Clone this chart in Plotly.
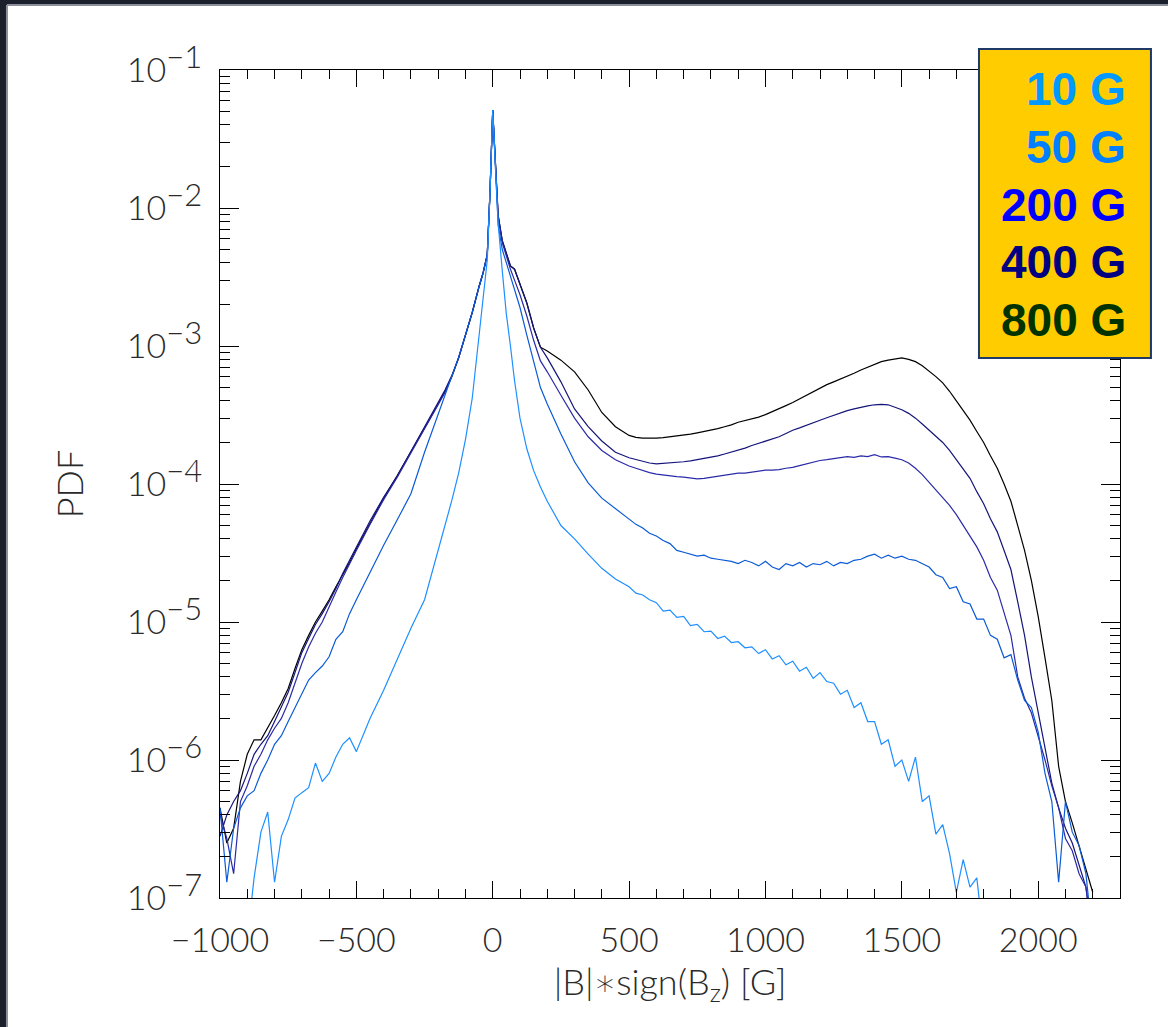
import plotly.graph_objects as go

# |B|*sign(Bz) in G, shared by all curves
field_G = ([-1000, -975, -950, -925, -900, -875, -850, -825, -800, -775, -750, -725, -700, -675, -650, -625,
            -600, -575, -550, -525, -500]
           + [-450, -400, -350, -300, -250, -200]
           + [-175, -150, -125, -100, -75, -50, -35, -20, -10, 0, 10, 20, 35, 50, 65, 80, 100, 125, 150, 175]
           + [200, 250, 300, 350, 400, 450]
           + [500, 525, 550, 575, 600, 625, 650, 675, 700, 725, 750, 775, 800, 825, 850, 875, 900, 925, 950, 975,
              1000, 1025, 1050, 1075, 1100, 1125, 1150, 1175, 1200, 1225, 1250, 1275, 1300, 1325, 1350, 1375,
              1400, 1425, 1450, 1475, 1500, 1525, 1550, 1575, 1600, 1625, 1650, 1675, 1700, 1725, 1750, 1775,
              1800, 1825, 1850, 1875, 1900, 1925, 1950, 1975, 2000, 2025, 2050, 2075, 2100, 2125, 2150, 2175,
              2200, 2225, 2250])

pdf_10G = ([None, None, None, None, 5e-8, 1.4e-7, 3e-7, 4.2e-7, 1.3e-7, 2.8e-7, 3.7e-7, 5.3e-7, 5.8e-7, 6.3e-7, 9.5e-7, 7e-7,
            8e-7, 1.05e-6, 1.3e-6, 1.45e-6, 1.15e-6]
           + [2e-6, 3.2e-6, 5.4e-6, 9e-6, 1.45e-5, 3.3e-5]
           + [5e-5, 7.6e-5, 1.2e-4, 2.1e-4, 4.2e-4, 1.2e-3, 2.2e-3, 4.2e-3, 1.3e-2, 5.1e-2, 2e-2, 7.7e-3, 3.5e-3, 1.7e-3, 1e-3, 5.6e-4, 3e-4, 1.8e-4, 1.25e-4, 9.5e-5]
           + [7.5e-5, 5e-5, 4e-5, 3.1e-5, 2.45e-5, 2.05e-5]
           + [1.8e-5, 1.62e-5, 1.57e-5, 1.45e-5, 1.38e-5, 1.2e-5, 1.22e-5, 1.08e-5, 1.1e-5, 9.4e-6, 9.6e-6, 8.5e-6, 8.6e-6, 7.6e-6, 7.9e-6, 7.1e-6, 7.2e-6, 6.5e-6, 6.6e-6, 5.9e-6,
              6.3e-6, 5.4e-6, 5.7e-6, 4.9e-6, 5.2e-6, 4.4e-6, 4.7e-6, 3.9e-6, 4.3e-6, 3.7e-6, 3.6e-6, 3e-6, 3.2e-6, 2.4e-6, 2.6e-6, 1.9e-6,
              1.9e-6, 1.3e-6, 1.4e-6, 9e-7, 1e-6, 7e-7, 1.05e-6, 5e-7, 5.5e-7, 2.9e-7, 3.4e-7, 2.1e-7, 1.1e-7, 1.9e-7, 1.2e-7, 1.4e-7,
              5e-8, None, None, None, None, None, None, None, None, None, None, None, None, None, None, None,
              None, None, None])

pdf_50G = ([4.5e-7, 1.3e-7, 3.2e-7, 4.5e-7, 5.5e-7, 6e-7, 8e-7, 1e-6, 1.3e-6, 1.5e-6, 1.9e-6, 2.4e-6, 3e-6, 3.8e-6, 4.3e-6, 4.8e-6,
            5.6e-6, 7.5e-6, 8.5e-6, 1.15e-5, 1.45e-5]
           + [2.3e-5, 3.6e-5, 5.5e-5, 8.5e-5, 1.7e-4, 3.2e-4]
           + [4.3e-4, 6e-4, 8.3e-4, 1.2e-3, 1.75e-3, 2.7e-3, 3.4e-3, 4.6e-3, 1.3e-2, 5.1e-2, 2e-2, 7.5e-3, 5e-3, 4e-3, 3.2e-3, 2.5e-3, 1.9e-3, 1.2e-3, 7.8e-4, 5e-4]
           + [3.8e-4, 2.3e-4, 1.45e-4, 1.02e-4, 7.9e-5, 6.6e-5]
           + [5.5e-5, 5.1e-5, 4.8e-5, 4.4e-5, 4.2e-5, 3.9e-5, 3.7e-5, 3.3e-5, 3.2e-5, 3.1e-5, 3e-5, 3.05e-5, 2.9e-5, 2.85e-5, 2.8e-5, 2.75e-5, 2.65e-5, 2.8e-5, 2.7e-5, 2.55e-5,
              2.75e-5, 2.5e-5, 2.4e-5, 2.65e-5, 2.55e-5, 2.7e-5, 2.5e-5, 2.65e-5, 2.6e-5, 2.75e-5, 2.55e-5, 2.7e-5, 2.65e-5, 2.8e-5, 2.85e-5, 3e-5,
              3.1e-5, 2.9e-5, 3.05e-5, 2.9e-5, 3e-5, 2.85e-5, 2.8e-5, 2.65e-5, 2.5e-5, 2.2e-5, 2.1e-5, 1.75e-5, 1.8e-5, 1.4e-5, 1.35e-5, 1.05e-5,
              1.05e-5, 8e-6, 7.5e-6, 5.5e-6, 5.8e-6, 3.8e-6, 2.7e-6, 2.4e-6, 1.6e-6, 8e-7, 5e-7, 1.3e-7, 5e-7, 3e-7, 2.4e-7, 1.5e-7,
              5e-8, None, None])

pdf_200G = ([4e-7, 2.7e-7, 1.5e-7, 5e-7, 6.5e-7, 9e-7, 1.1e-6, 1.4e-6, 1.7e-6, 2e-6, 2.6e-6, 3.6e-6, 5e-6, 6.6e-6, 8.3e-6, 1e-5,
             1.3e-5, 1.65e-5, 2.1e-5, 2.6e-5, 3.3e-5]
            + [5.1e-5, 7.7e-5, 1.12e-4, 1.68e-4, 2.55e-4, 3.75e-4]
            + [4.6e-4, 6e-4, 8.2e-4, 1.2e-3, 1.75e-3, 2.7e-3, 3.4e-3, 4.6e-3, 1.3e-2, 5.1e-2, 2e-2, 8.5e-3, 5.6e-3, 4.4e-3, 3.6e-3, 3e-3, 2.35e-3, 1.65e-3, 1.1e-3, 7.8e-4]
            + [6.5e-4, 4.4e-4, 3e-4, 2.2e-4, 1.75e-4, 1.5e-4]
            + [1.35e-4, 1.3e-4, 1.25e-4, 1.21e-4, 1.18e-4, 1.16e-4, 1.14e-4, 1.13e-4, 1.12e-4, 1.1e-4, 1.09e-4, 1.1e-4, 1.12e-4, 1.14e-4, 1.16e-4, 1.19e-4, 1.2e-4, 1.2e-4, 1.22e-4, 1.24e-4,
               1.26e-4, 1.26e-4, 1.27e-4, 1.3e-4, 1.32e-4, 1.36e-4, 1.4e-4, 1.45e-4, 1.48e-4, 1.5e-4, 1.52e-4, 1.55e-4, 1.58e-4, 1.56e-4, 1.6e-4, 1.58e-4,
               1.63e-4, 1.57e-4, 1.58e-4, 1.54e-4, 1.5e-4, 1.42e-4, 1.3e-4, 1.17e-4, 1.03e-4, 9.2e-5, 8e-5, 7e-5, 6e-5, 5e-5, 4.2e-5, 3.5e-5,
               2.8e-5, 2.1e-5, 1.7e-5, 1.15e-5, 8e-6, 4e-6, 2.8e-6, 2.2e-6, 1.5e-6, 1e-6, 6.5e-7, 4.5e-7, 2.7e-7, 2.2e-7, 1.5e-7, 1.2e-7,
               5e-8, None, None])

pdf_400G = ([2.8e-7, 4e-7, 5e-7, 6e-7, 8e-7, 1.1e-6, 1.3e-6, 1.5e-6, 1.9e-6, 2.4e-6, 3.1e-6, 4.3e-6, 6e-6, 7.6e-6, 9.6e-6, 1.15e-5,
             1.4e-5, 1.75e-5, 2.25e-5, 2.8e-5, 3.5e-5]
            + [5.4e-5, 8e-5, 1.14e-4, 1.72e-4, 2.6e-4, 3.85e-4]
            + [4.8e-4, 6.1e-4, 8.2e-4, 1.2e-3, 1.75e-3, 2.7e-3, 3.4e-3, 4.6e-3, 1.3e-2, 5.1e-2, 2e-2, 8.8e-3, 5.8e-3, 4.6e-3, 3.8e-3, 3.6e-3, 2.8e-3, 2.05e-3, 1.35e-3, 9.8e-4]
            + [8.2e-4, 5.5e-4, 3.5e-4, 2.6e-4, 2.05e-4, 1.7e-4]
            + [1.55e-4, 1.5e-4, 1.45e-4, 1.42e-4, 1.4e-4, 1.41e-4, 1.42e-4, 1.43e-4, 1.45e-4, 1.47e-4, 1.5e-4, 1.52e-4, 1.55e-4, 1.6e-4, 1.65e-4, 1.7e-4, 1.75e-4, 1.82e-4, 1.9e-4, 1.97e-4,
               2.05e-4, 2.12e-4, 2.2e-4, 2.32e-4, 2.45e-4, 2.55e-4, 2.65e-4, 2.78e-4, 2.9e-4, 3.02e-4, 3.15e-4, 3.28e-4, 3.4e-4, 3.5e-4, 3.6e-4, 3.68e-4,
               3.75e-4, 3.78e-4, 3.75e-4, 3.62e-4, 3.45e-4, 3.25e-4, 3e-4, 2.72e-4, 2.45e-4, 2.22e-4, 2e-4, 1.75e-4, 1.5e-4, 1.3e-4, 1.1e-4, 8.8e-5,
               7.2e-5, 5.6e-5, 4.5e-5, 3.3e-5, 2.4e-5, 1.4e-5, 8e-6, 4e-6, 2.2e-6, 1.2e-6, 6.8e-7, 4.5e-7, 3.2e-7, 2.5e-7, 1.7e-7, 1.2e-7,
               5e-8, None, None])

pdf_800G = ([4.5e-7, 2.5e-7, 3.2e-7, 7e-7, 1.1e-6, 1.4e-6, 1.4e-6, 1.7e-6, 2.1e-6, 2.6e-6, 3.3e-6, 4.6e-6, 6.3e-6, 8e-6, 1e-5, 1.2e-5,
             1.45e-5, 1.8e-5, 2.2e-5, 2.7e-5, 3.4e-5]
            + [5.2e-5, 7.9e-5, 1.15e-4, 1.7e-4, 2.55e-4, 3.8e-4]
            + [4.7e-4, 6e-4, 8.2e-4, 1.2e-3, 1.75e-3, 2.7e-3, 3.4e-3, 4.6e-3, 1.3e-2, 5.1e-2, 2e-2, 8.8e-3, 5.8e-3, 4.6e-3, 3.8e-3, 3.6e-3, 2.8e-3, 2.05e-3, 1.35e-3, 9.8e-4]
            + [9.2e-4, 7.9e-4, 6.5e-4, 4.8e-4, 3.3e-4, 2.6e-4]
            + [2.25e-4, 2.18e-4, 2.15e-4, 2.14e-4, 2.15e-4, 2.17e-4, 2.2e-4, 2.22e-4, 2.25e-4, 2.3e-4, 2.35e-4, 2.4e-4, 2.45e-4, 2.52e-4, 2.6e-4, 2.68e-4, 2.8e-4, 2.87e-4, 2.95e-4, 3.05e-4,
               3.18e-4, 3.33e-4, 3.5e-4, 3.7e-4, 3.9e-4, 4.15e-4, 4.4e-4, 4.7e-4, 5e-4, 5.25e-4, 5.5e-4, 5.75e-4, 6e-4, 6.35e-4, 6.7e-4, 7.05e-4,
               7.4e-4, 7.7e-4, 7.9e-4, 8.1e-4, 8.2e-4, 8e-4, 7.7e-4, 7.2e-4, 6.6e-4, 6e-4, 5.4e-4, 4.7e-4, 4e-4, 3.4e-4, 2.9e-4, 2.4e-4,
               2e-4, 1.6e-4, 1.3e-4, 1e-4, 7.5e-5, 5e-5, 3.3e-5, 2e-5, 1.1e-5, 5.5e-6, 2.7e-6, 9e-7, 5e-7, 3.5e-7, 2.4e-7, 1.6e-7,
               1.1e-7, None, None])

legend_labels = ["10 G", "50 G", "200 G", "400 G", "800 G"]
legend_colors = ["#0099ff", "#0080ff", "#0000ff", "#000080", "#003300"]

y_tickvals = [1e-7, 1e-6, 1e-5, 1e-4, 1e-3, 1e-2, 1e-1]
y_exponents = ["7", "6", "5", "4", "3", "2", "1"]
y_ticktext = ["10<sup><span style='font-size:31px'>\u2212" + e + "</span></sup>" for e in y_exponents]
x_tickvals = [-1000, -500, 0, 500, 1000, 1500, 2000]
x_ticktext = ["\u22121000", "\u2212500", "0", "500", "1000", "1500", "2000"]

# plotted order: strongest field first so the 10 G spike ends on top
curves = [
    (pdf_800G, "#000000"),
    (pdf_400G, "#15157a"),
    (pdf_200G, "#2a2aa8"),
    (pdf_50G, "#0a5ad6"),
    (pdf_10G, "#1e8fff"),
]

fig = go.Figure()
for vals, col in curves:
    if len(vals) != len(field_G):
        raise ValueError("length mismatch %d vs %d" % (len(vals), len(field_G)))
    fig.add_trace(go.Scatter(x=field_G, y=vals, mode="lines",
                             line=dict(color=col, width=1.2), showlegend=False))

thin = dict(family="Lato", size=34, color="#2a2a2a", weight=300)
title_font = dict(family="Lato", size=36, color="#2a2a2a", weight=300)

minor_y = [m * 10.0 ** e for e in range(-7, -1) for m in range(2, 10)]

x_title = "|B|<span style='font-family:DejaVu Sans; color:#2a2a2a'>\u2217</span>sign(B<sub>z</sub>) [G]"

fig.update_xaxes(range=[-1000, 2300], showline=True, linecolor="black", linewidth=1, mirror="allticks",
                 ticks="inside", ticklen=17, tickwidth=1, tickcolor="black",
                 tickvals=x_tickvals, ticktext=x_ticktext, tickfont=thin, ticklabelstandoff=12,
                 minor=dict(ticks="inside", ticklen=9, tickwidth=1, tickcolor="black", dtick=100, showgrid=False),
                 showgrid=False, zeroline=False,
                 title=dict(text=x_title, font=title_font, standoff=3))
fig.update_yaxes(type="log", range=[-7, -1], showline=True, linecolor="black", linewidth=1, mirror="allticks",
                 ticks="inside", ticklen=19, tickwidth=1, tickcolor="black",
                 tickvals=y_tickvals, ticktext=y_ticktext, tickfont=thin, ticklabelstandoff=10,
                 minor=dict(ticks="inside", ticklen=10, tickwidth=1, tickcolor="black", tickvals=minor_y, showgrid=False),
                 showgrid=False, zeroline=False,
                 title=dict(text="PDF", font=title_font, standoff=32))

# dark window frame on the top and left edges
fig.add_shape(type="rect", xref="paper", yref="paper", x0=-0.26, x1=-0.2367, y0=-0.2, y1=1.1,
              fillcolor="#1b1f2b", line_width=0)
fig.add_shape(type="rect", xref="paper", yref="paper", x0=-0.26, x1=1.1, y0=1.0785, y1=1.1,
              fillcolor="#1b1f2b", line_width=0)
fig.add_shape(type="line", xref="paper", yref="paper", x0=-0.2367, x1=-0.2367, y0=-0.2, y1=1.0785,
              line=dict(color="#8a8f99", width=2))
fig.add_shape(type="line", xref="paper", yref="paper", x0=-0.2367, x1=1.1, y0=1.0785, y1=1.0785,
              line=dict(color="#8a8f99", width=2))

# yellow legend box
fig.add_shape(type="rect", xref="paper", yref="paper", x0=0.8433, x1=1.0344, y0=0.6522, y1=1.0254,
              fillcolor="#ffcc00", line=dict(color="#1f3a66", width=2), layer="above")
legend_y = [0.9771, 0.9070, 0.8370, 0.7681, 0.6981]
for lab, col, yy in zip(legend_labels, legend_colors, legend_y):
    fig.add_annotation(x=1.0089, y=yy, xref="paper", yref="paper", text="<b>" + lab + "</b>",
                       showarrow=False, xanchor="right", yanchor="middle",
                       font=dict(family="Liberation Sans", size=46, color=col))

fig.update_layout(width=1168, height=1027, paper_bgcolor="white", plot_bgcolor="white",
                  margin=dict(l=220, r=48, t=70, b=129, autoexpand=False))

fig.write_html("out.html", config={"displayModeBar": False},
               post_script="document.body.style.margin='0px';")
